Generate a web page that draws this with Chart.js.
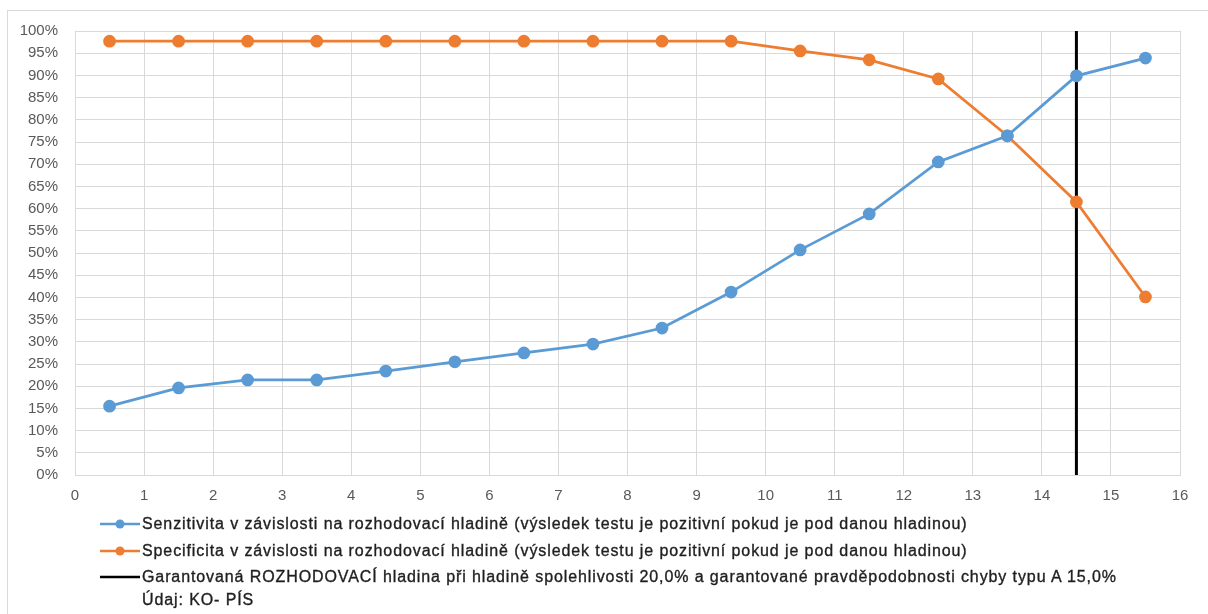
<!DOCTYPE html>
<html lang="cs">
<head>
<meta charset="utf-8">
<script src="https://cdn.jsdelivr.net/npm/chart.js@4"></script>
<style>
  html, body { margin: 0; padding: 0; background: #fff; }
  #wrap { position: relative; width: 1208px; height: 614px; overflow: hidden; }
  #frame { position: absolute; left: 7px; top: 10px; width: 1220px; height: 640px; border: 1px solid #d9d9d9; box-sizing: border-box; }
  canvas { position: absolute; left: 0; top: 0; }
  #legend { position: absolute; left: 100px; top: 513px; font-family: "Liberation Sans", Arial, sans-serif; font-size: 16px; letter-spacing: 0.9px; color: #1f1f1f; -webkit-text-stroke: 0.35px #1f1f1f; }
  .item { position: relative; height: 26.5px; line-height: 22px; white-space: nowrap; }
  .item .mk { position: absolute; left: 0; top: 0; width: 40px; height: 22px; }
  .item .tx { position: absolute; left: 42px; top: 0; }
  .sub { height: 22px; line-height: 22px; padding-left: 42px; white-space: nowrap; margin-top: -4px; }
</style>
</head>
<body>
<div id="wrap">
  <div id="frame"></div>
  <canvas id="c" width="1208" height="614"></canvas>
  <div id="legend"></div>
</div>
<script>
// Rozhodovací hladiny (střed intervalů)
const levels = [0.5, 1.5, 2.5, 3.5, 4.5, 5.5, 6.5, 7.5, 8.5, 9.5, 10.5, 11.5, 12.5, 13.5, 14.5, 15.5];
// Senzitivita v % pro jednotlivé hladiny
const sensitivity = [15.5, 19.6, 21.4, 21.4, 23.4, 25.5, 27.5, 29.5, 33.1, 41.2, 50.7, 58.8, 70.5, 76.4, 89.9, 93.9];
// Specificita v % pro jednotlivé hladiny
const specificity = [97.7, 97.7, 97.7, 97.7, 97.7, 97.7, 97.7, 97.7, 97.7, 97.7, 95.5, 93.5, 89.2, 76.4, 61.5, 40.1];
// Garantovaná rozhodovací hladina
const guaranteedLevel = 14.5;
const guaranteedSpan = [0, 100];

const labels = [
  'Senzitivita v závislosti na rozhodovací hladině (výsledek testu je pozitivní pokud je pod danou hladinou)',
  'Specificita v závislosti na rozhodovací hladině (výsledek testu je pozitivní pokud je pod danou hladinou)',
  'Garantovaná ROZHODOVACÍ hladina při hladině spolehlivosti 20,0% a garantované pravděpodobnosti chyby typu A 15,0%'
];
const note = 'Údaj: KO- PÍS';

const BLUE = '#5b9bd5', ORANGE = '#ed7d31', BLACK = '#000000';
const toPoints = (xs, ys) => xs.map((x, i) => ({ x: x, y: ys[i] }));

const tickFont = { family: '"Liberation Sans", Arial, sans-serif', size: 15 };

new Chart(document.getElementById('c'), {
  type: 'scatter',
  data: {
    datasets: [
      { label: labels[0], data: toPoints(levels, sensitivity), showLine: true,
        borderColor: BLUE, backgroundColor: BLUE, borderWidth: 2.75, pointRadius: 5, pointHoverRadius: 5 },
      { label: labels[1], data: toPoints(levels, specificity), showLine: true,
        borderColor: ORANGE, backgroundColor: ORANGE, borderWidth: 2.75, pointRadius: 5, pointHoverRadius: 5 },
      { label: labels[2], data: guaranteedSpan.map(y => ({ x: guaranteedLevel, y: y })), showLine: true,
        borderColor: BLACK, backgroundColor: BLACK, borderWidth: 3, pointRadius: 0 }
    ]
  },
  options: {
    responsive: false,
    animation: false,
    layout: { padding: { left: 10, top: 31, right: 28, bottom: 109 } },
    plugins: { legend: { display: false }, tooltip: { enabled: false } },
    scales: {
      x: {
        type: 'linear', min: 0, max: 16,
        ticks: { stepSize: 1, color: '#595959', font: tickFont, padding: 12 },
        grid: { color: '#d9d9d9', lineWidth: 1, drawTicks: false },
        border: { color: '#d9d9d9' },
        afterFit: s => { s.height = 30; }
      },
      y: {
        min: 0, max: 100,
        ticks: { stepSize: 5, color: '#595959', font: tickFont, padding: 17, callback: v => v + '%' },
        grid: { color: '#d9d9d9', lineWidth: 1, drawTicks: false },
        border: { color: '#d9d9d9' },
        afterFit: s => { s.width = 65; }
      }
    }
  }
});

// Legenda pod grafem
const legend = document.getElementById('legend');
const markers = [
  '<svg class="mk" viewBox="0 0 40 22"><line x1="0" y1="11" x2="40" y2="11" stroke="' + BLUE + '" stroke-width="2.5"/><circle cx="20" cy="11" r="4.5" fill="' + BLUE + '"/></svg>',
  '<svg class="mk" viewBox="0 0 40 22"><line x1="0" y1="11" x2="40" y2="11" stroke="' + ORANGE + '" stroke-width="2.5"/><circle cx="20" cy="11" r="4.5" fill="' + ORANGE + '"/></svg>',
  '<svg class="mk" viewBox="0 0 40 22"><line x1="0" y1="11" x2="40" y2="11" stroke="' + BLACK + '" stroke-width="2.5"/></svg>'
];
labels.forEach((t, i) => {
  const d = document.createElement('div');
  d.className = 'item';
  d.innerHTML = markers[i] + '<span class="tx"></span>';
  d.querySelector('.tx').textContent = t;
  legend.appendChild(d);
});
const n = document.createElement('div');
n.className = 'sub';
n.textContent = note;
legend.appendChild(n);
</script>
</body>
</html>
